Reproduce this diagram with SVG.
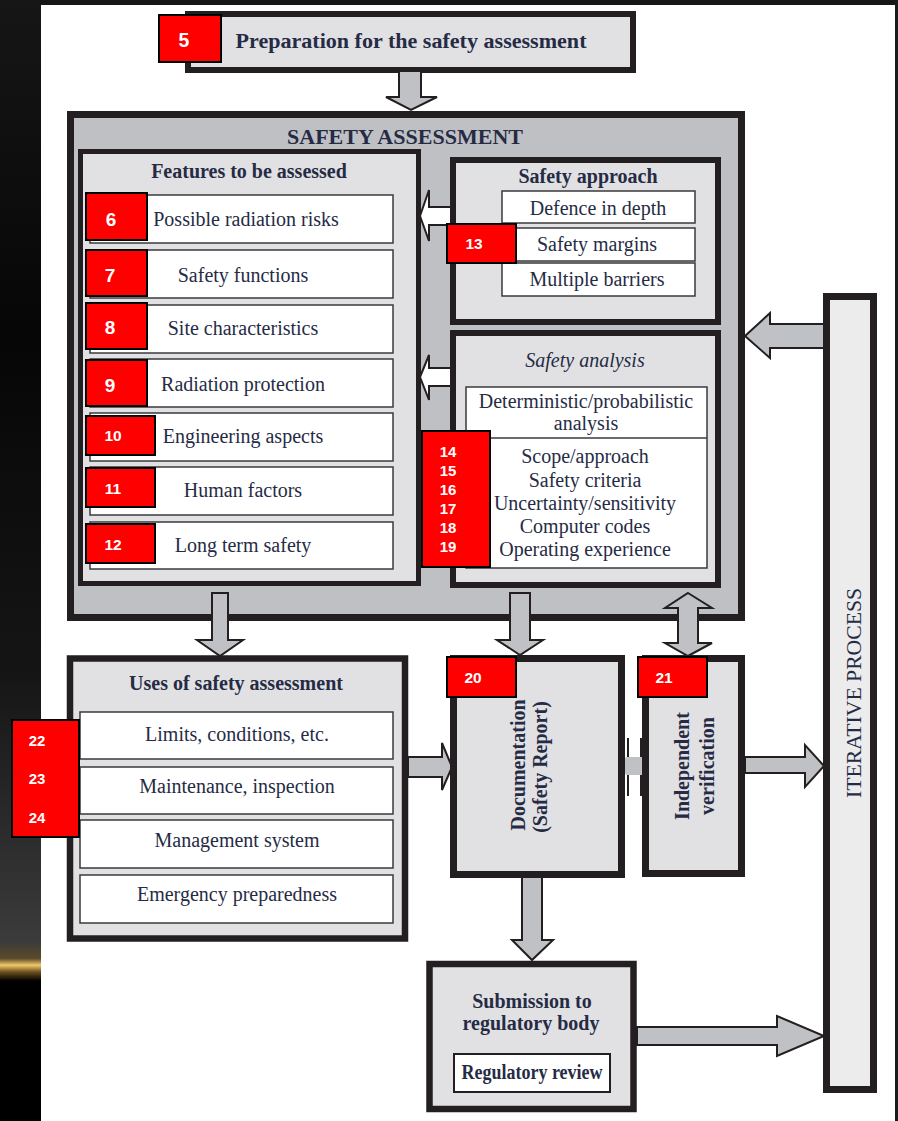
<svg xmlns="http://www.w3.org/2000/svg" width="898" height="1121" viewBox="0 0 898 1121">
  <defs>
    <linearGradient id="sideGrad" x1="0" y1="0" x2="0" y2="1">
      <stop offset="0" stop-color="#161616"/>
      <stop offset="0.3" stop-color="#060606"/>
      <stop offset="0.6" stop-color="#151515"/>
      <stop offset="0.84" stop-color="#3b3b3b"/>
      <stop offset="0.855" stop-color="#5a4a2a"/>
      <stop offset="0.861" stop-color="#f0c868"/>
      <stop offset="0.867" stop-color="#6a5020"/>
      <stop offset="0.875" stop-color="#000000"/>
      <stop offset="1" stop-color="#000000"/>
    </linearGradient>
    <style>
      .frame { stroke: #231f20; fill: #e1e1e3; }
      .outer { stroke: #231f20; fill: #bfc0c4; }
      .row { fill: #ffffff; stroke: #3a3a3c; stroke-width: 1.5; }
      .tag { fill: #ff0000; stroke: #000000; stroke-width: 2; }
      .num { font-family: "Liberation Sans", Arial, sans-serif; font-weight: bold; fill: #ffffff; text-anchor: middle; }
      .t { font-family: "Liberation Serif", "Times New Roman", serif; font-size: 20px; fill: #262b45; text-anchor: middle; }
      .b { font-weight: bold; }
      .arr { fill: #c0c1c5; stroke: #231f20; stroke-width: 2; stroke-linejoin: miter; }
      .warr { fill: #ffffff; stroke: #231f20; stroke-width: 2; }
    </style>
  </defs>

  <!-- page background -->
  <rect x="0" y="0" width="898" height="1121" fill="#ffffff"/>
  <rect x="0" y="0" width="41" height="1121" fill="url(#sideGrad)"/>
  <rect x="0" y="0" width="898" height="5" fill="#161616"/>
  <rect x="895" y="0" width="3" height="1121" fill="#1a1a1a"/>

  <!-- preparation -->
  <g id="preparation">
    <rect class="frame" x="188" y="14" width="445" height="56" stroke-width="6"/>
    <text class="t b" x="411" y="48" font-size="23" textLength="351" lengthAdjust="spacingAndGlyphs">Preparation for the safety assessment</text>
    <rect class="tag" x="159" y="15" width="62" height="47"/>
    <text class="num" x="184" y="47" font-size="19.5">5</text>
  </g>

  <!-- safety assessment -->
  <g id="safety-assessment">
    <rect class="outer" x="70.5" y="114.5" width="671" height="503" stroke-width="7"/>
    <text class="t b" x="405" y="144" font-size="23.5" textLength="236" lengthAdjust="spacingAndGlyphs">SAFETY ASSESSMENT</text>
  </g>

  <!-- connectors -->
  <g id="connectors">
    <!-- preparation to safety assessment -->
    <polygon class="arr" points="399,71 421,71 421,97 437,97 411,110 386,97 399,97"/>
    <!-- features/analysis down to uses and documentation -->
    <polygon class="arr" points="212,593 228,593 228,640 243,640 220,656 197,640 212,640"/>
    <polygon class="arr" points="510,593 530,593 530,640 543,640 520,655 497,640 510,640"/>
    <!-- two-way link to independent verification -->
    <polygon class="arr" points="688,593 712,608 698,608 698,643 712,643 688,656 665,643 678,643 678,608 665,608"/>
    <!-- uses to documentation -->
    <polygon class="arr" points="408,757 442,757 442,743 452,767 442,790 442,777 408,777"/>
    <!-- documentation to independent verification -->
    <rect x="624" y="757" width="22" height="18" rx="4" fill="#c0c1c5"/>
    <polygon points="627,738 629,738 629,757 627,757" fill="#231f20"/>
    <polygon points="627,775 629,775 629,796 627,796" fill="#231f20"/>
    <polygon points="640,738 642,738 642,757 640,757" fill="#231f20"/>
    <polygon points="640,775 642,775 642,796 640,796" fill="#231f20"/>
    <!-- independent verification to iterative process -->
    <polygon class="arr" points="745,757 805,757 805,745 824,766 805,787 805,773 745,773"/>
    <!-- iterative process back to safety assessment -->
    <polygon class="arr" points="826,324 770,324 770,313 745,336 770,358 770,348 826,348"/>
    <!-- documentation to submission -->
    <polygon class="arr" points="522,877 542,877 542,940 553,940 532,960 512,940 522,940"/>
    <!-- submission to iterative process -->
    <polygon class="arr" points="637,1027 777,1027 777,1016 824,1036 777,1056 777,1045 637,1045"/>
    <!-- safety approach and safety analysis feed the features -->
    <polygon class="warr" points="420,216 429,190 429,207 452,207 452,225 429,225 429,241"/>
    <polygon class="warr" points="420,377 429,355 429,368 452,368 452,386 429,386 429,400"/>
  </g>

  <!-- features to be assessed -->
  <g id="features">
    <rect class="frame" x="80.5" y="151.5" width="338" height="432" stroke-width="5"/>
    <text class="t b" x="249" y="178">Features to be assessed</text>
    <rect class="row" x="90" y="195" width="303" height="48"/>
    <rect class="row" x="90" y="250" width="303" height="48"/>
    <rect class="row" x="90" y="305" width="303" height="48"/>
    <rect class="row" x="90" y="359" width="303" height="48"/>
    <rect class="row" x="90" y="413" width="303" height="48"/>
    <rect class="row" x="90" y="467" width="303" height="48"/>
    <rect class="row" x="90" y="522" width="303" height="47"/>
    <text class="t" x="246" y="226">Possible radiation risks</text>
    <text class="t" x="243" y="282">Safety functions</text>
    <text class="t" x="243" y="335">Site characteristics</text>
    <text class="t" x="243" y="391">Radiation protection</text>
    <text class="t" x="243" y="443">Engineering aspects</text>
    <text class="t" x="243" y="497">Human factors</text>
    <text class="t" x="243" y="552">Long term safety</text>
    <rect class="tag" x="86" y="193" width="61" height="47"/>
    <rect class="tag" x="86" y="250" width="61" height="46"/>
    <rect class="tag" x="86" y="303" width="61" height="46"/>
    <rect class="tag" x="86" y="360" width="61" height="46"/>
    <rect class="tag" x="86" y="416" width="69" height="39"/>
    <rect class="tag" x="86" y="468" width="69" height="39"/>
    <rect class="tag" x="86" y="524" width="69" height="39"/>
    <text class="num" x="111" y="226" font-size="19">6</text>
    <text class="num" x="110" y="282" font-size="19">7</text>
    <text class="num" x="110" y="334" font-size="19">8</text>
    <text class="num" x="110" y="392" font-size="19">9</text>
    <text class="num" x="113" y="441" font-size="15.5">10</text>
    <text class="num" x="113" y="494" font-size="15.5">11</text>
    <text class="num" x="113" y="550" font-size="15.5">12</text>
  </g>

  <!-- safety approach -->
  <g id="safety-approach">
    <rect class="frame" x="453" y="160" width="265" height="162" stroke-width="6"/>
    <text class="t b" x="588" y="183">Safety approach</text>
    <rect class="row" x="502" y="191" width="193" height="32"/>
    <rect class="row" x="502" y="228" width="193" height="33"/>
    <rect class="row" x="502" y="263" width="193" height="33"/>
    <text class="t" x="598" y="215">Defence in depth</text>
    <text class="t" x="597" y="251">Safety margins</text>
    <text class="t" x="597" y="286">Multiple barriers</text>
    <rect class="tag" x="447" y="224" width="69" height="39"/>
    <text class="num" x="474" y="248.5" font-size="15.5">13</text>
  </g>

  <!-- safety analysis -->
  <g id="safety-analysis">
    <rect class="frame" x="453" y="333" width="265" height="252" stroke-width="6"/>
    <text class="t" x="585" y="367" font-style="italic">Safety analysis</text>
    <rect class="row" x="466" y="387" width="241" height="181"/>
    <line x1="466" y1="438" x2="707" y2="438" stroke="#3a3a3c" stroke-width="1.5"/>
    <text class="t" x="586" y="408">Deterministic/probabilistic</text>
    <text class="t" x="586" y="430">analysis</text>
    <text class="t" x="585" y="463">Scope/approach</text>
    <text class="t" x="585" y="487">Safety criteria</text>
    <text class="t" x="585" y="510">Uncertainty/sensitivity</text>
    <text class="t" x="585" y="533">Computer codes</text>
    <text class="t" x="585" y="556">Operating experience</text>
    <rect class="tag" x="422" y="431" width="68" height="136"/>
    <text class="num" x="448" y="456.5" font-size="15">14</text>
    <text class="num" x="448" y="476" font-size="15">15</text>
    <text class="num" x="448" y="495" font-size="15">16</text>
    <text class="num" x="448" y="514" font-size="15">17</text>
    <text class="num" x="448" y="533" font-size="15">18</text>
    <text class="num" x="448" y="552" font-size="15">19</text>
  </g>

  <!-- uses of safety assessment -->
  <g id="uses">
    <rect class="frame" x="70" y="658.5" width="335" height="280" stroke-width="6.5"/>
    <text class="t b" x="236" y="690">Uses of safety assessment</text>
    <rect class="row" x="80" y="712" width="313" height="47"/>
    <rect class="row" x="80" y="767" width="313" height="47"/>
    <rect class="row" x="80" y="820" width="313" height="48"/>
    <rect class="row" x="80" y="875" width="313" height="48"/>
    <text class="t" x="237" y="741">Limits, conditions, etc.</text>
    <text class="t" x="237" y="793">Maintenance, inspection</text>
    <text class="t" x="237" y="847">Management system</text>
    <text class="t" x="237" y="901">Emergency preparedness</text>
    <rect class="tag" x="12" y="720" width="67" height="117"/>
    <text class="num" x="37" y="745.5" font-size="15">22</text>
    <text class="num" x="37" y="783.5" font-size="15">23</text>
    <text class="num" x="37" y="822.5" font-size="15">24</text>
  </g>

  <!-- documentation -->
  <g id="documentation">
    <rect class="frame" x="453.5" y="658.5" width="168" height="216" stroke-width="7"/>
    <text class="t b" transform="translate(525,765) rotate(-90)">Documentation</text>
    <text class="t b" transform="translate(547,767) rotate(-90)">(Safety Report)</text>
    <rect class="tag" x="447" y="657" width="69" height="40"/>
    <text class="num" x="473" y="682.5" font-size="15.5">20</text>
  </g>

  <!-- independent verification -->
  <g id="verification">
    <rect class="frame" x="645.5" y="658.5" width="96" height="215" stroke-width="7"/>
    <text class="t b" transform="translate(689,766) rotate(-90)">Independent</text>
    <text class="t b" transform="translate(714,766) rotate(-90)">verification</text>
    <rect class="tag" x="638" y="657" width="69" height="40"/>
    <text class="num" x="664" y="682.5" font-size="15.5">21</text>
  </g>

  <!-- iterative process -->
  <g id="iterative">
    <rect x="826.5" y="296.5" width="47" height="793" fill="#ececec" stroke="#231f20" stroke-width="7"/>
    <text class="t" transform="translate(861,693) rotate(-90)" font-size="22" textLength="210" lengthAdjust="spacingAndGlyphs">ITERATIVE PROCESS</text>
  </g>

  <!-- submission -->
  <g id="submission">
    <rect class="frame" x="429.5" y="964" width="204" height="145" stroke-width="6.5"/>
    <text class="t b" x="532" y="1008">Submission to</text>
    <text class="t b" x="531" y="1030">regulatory body</text>
    <rect x="454" y="1054" width="156" height="38" fill="#ffffff" stroke="#231f20" stroke-width="2"/>
    <text class="t b" x="532" y="1079" font-size="16" textLength="141" lengthAdjust="spacingAndGlyphs">Regulatory review</text>
  </g>
</svg>
